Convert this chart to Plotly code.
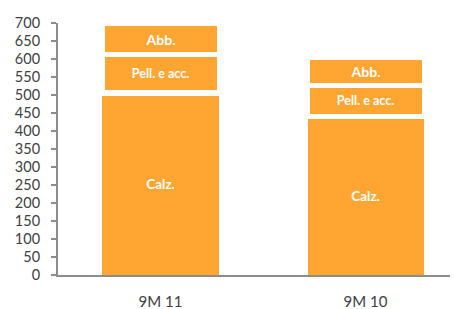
import plotly.graph_objects as go

categories = ["9M 11", "9M 10"]
calz = [505, 440]
pell = [108, 87]
abb = [85, 78]
series_names = ["Calz.", "Pell. e acc.", "Abb."]
y_ticks = list(range(0, 701, 50))

fill = "#FEA532"
fig = go.Figure()
styles = [
    (series_names[0], calz, 13.5, 0, 0.566),
    (series_names[1], pell, 12.5, 5.5, 0.573),
    (series_names[2], abb, 14, 5.5, 0.573),
]
for name, vals, size, lw, bw in styles:
    fig.add_trace(go.Bar(
        x=categories, y=vals, name=name,
        text=[name] * len(vals), textposition="inside", insidetextanchor="middle",
        textangle=0, constraintext="none",
        textfont=dict(family="Lato", size=size, color="white", weight="bold"),
        marker=dict(color=fill, line=dict(color="white", width=lw)),
        width=bw,
    ))

fig.update_layout(
    barmode="stack", width=455, height=309,
    margin=dict(l=58, r=5, t=23, b=34),
    paper_bgcolor="white", plot_bgcolor="white", showlegend=False,
    font=dict(family="Lato", size=14, color="#404040"),
    uniformtext=dict(mode=False),
)
fig.update_xaxes(range=[-0.5, 1.412], showline=True, linecolor="#8C8C8C", linewidth=2,
                 ticks="", ticklabelstandoff=12, showgrid=False, automargin=False,
                 tickfont=dict(family="Lato", size=15, color="#404040"))
fig.update_yaxes(range=[0, 700], tickvals=y_ticks, showline=True, linecolor="#8C8C8C",
                 linewidth=2, ticks="outside", ticklen=5, tickwidth=2, tickcolor="#8C8C8C",
                 ticklabelstandoff=8, showgrid=False, zeroline=False, automargin=False,
                 tickfont=dict(family="Lato", size=14.5, color="#404040"))

fig.write_html("out.html", config={"displayModeBar": False},
               post_script="document.body.style.margin='0';document.body.style.overflow='hidden';")
